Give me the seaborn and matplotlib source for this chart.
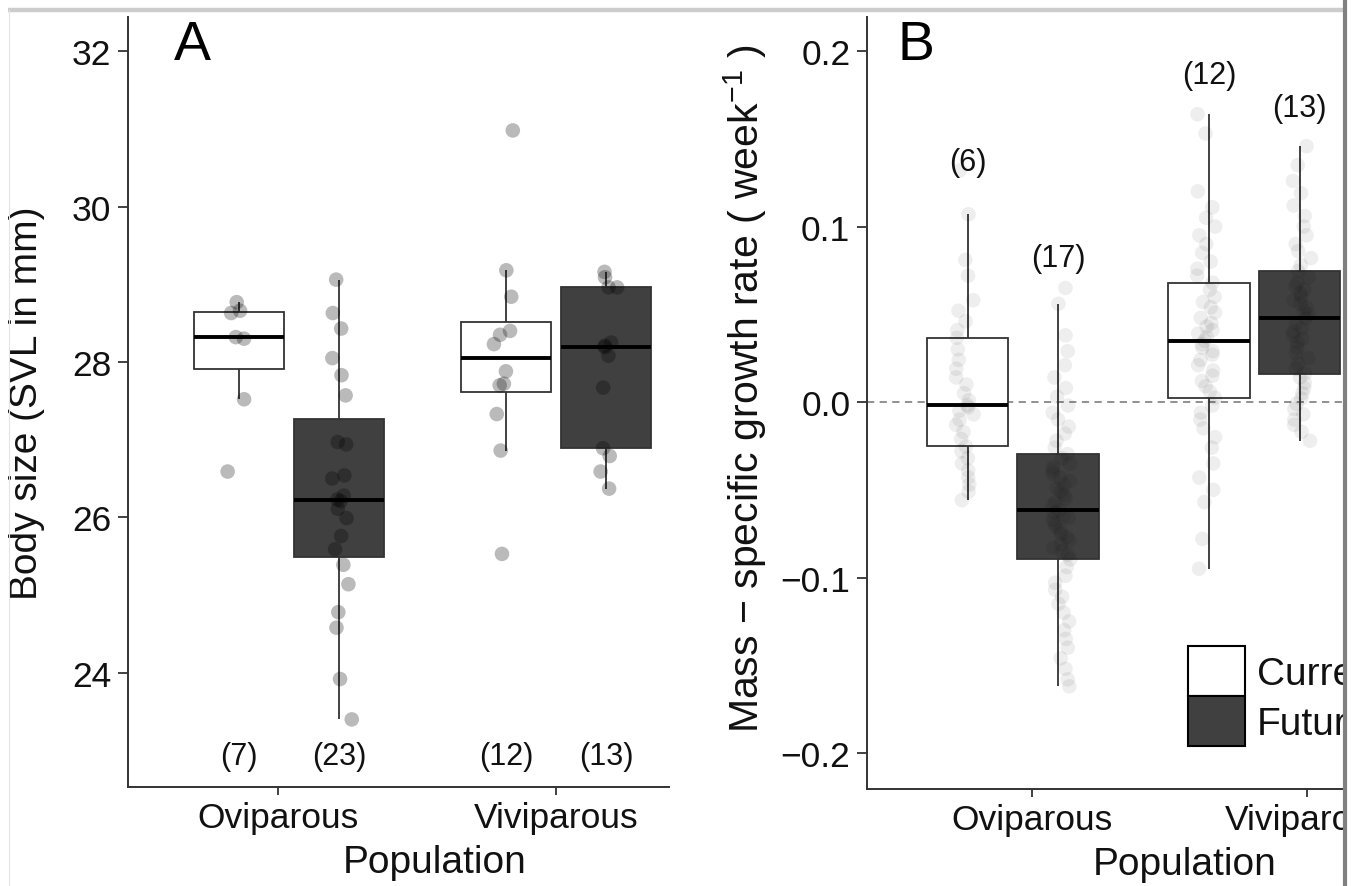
import numpy as np
import pandas as pd
import matplotlib
matplotlib.use("Agg")
import matplotlib.pyplot as plt
import seaborn as sns
from matplotlib.patches import Patch, Rectangle
from matplotlib.lines import Line2D

# ---------------- data ----------------
populations = ["Oviparous", "Viviparous"]
climates = ["Current", "Future"]

# Panel A: body size (SVL in mm)
svl_ovi_current = [28.77, 28.66, 28.63, 28.32, 28.30, 27.52, 26.59]
svl_ovi_future = [29.06, 28.63, 28.43, 28.05, 27.83, 27.57, 26.97, 26.94, 26.54,
                  26.50, 26.28, 26.23, 26.21, 26.11, 25.99, 25.76, 25.59, 25.39,
                  25.14, 24.78, 24.58, 23.92, 23.40]
svl_viv_current = [30.98, 29.18, 28.84, 28.40, 28.35, 28.23, 27.88, 27.72, 27.70,
                   27.33, 26.86, 25.53]
svl_viv_future = [29.16, 29.09, 28.96, 28.96, 28.25, 28.21, 28.19, 28.08, 27.67,
                  26.89, 26.79, 26.59, 26.37]

# Panel B: mass-specific growth rate (week^-1)
gr_ovi_current = [-0.0559, -0.051, -0.047, -0.043, -0.039, -0.035, -0.032, -0.028,
                  -0.0253, -0.021, -0.017, -0.013, -0.010, -0.007, -0.005, -0.003,
                  -0.0018, 0.001, 0.005, 0.010, 0.014, 0.019, 0.024, 0.030, 0.0366,
                  0.041, 0.046, 0.052, 0.058, 0.072, 0.081, 0.107, 0.132]
gr_ovi_future = [-0.162, -0.158, -0.152, -0.146, -0.140, -0.135, -0.130, -0.125,
                 -0.120, -0.115, -0.111, -0.107, -0.103, -0.099, -0.094, -0.0897,
                 -0.087, -0.085, -0.083, -0.081, -0.079, -0.077, -0.075, -0.073,
                 -0.071, -0.069, -0.067, -0.066, -0.065, -0.063, -0.0616,
                 -0.059, -0.057, -0.055, -0.053, -0.051, -0.049, -0.047, -0.045,
                 -0.043, -0.041, -0.039, -0.037, -0.035, -0.032, -0.0297,
                 -0.026, -0.022, -0.018, -0.014, -0.010, -0.006, -0.002, 0.003,
                 0.008, 0.014, 0.021, 0.029, 0.038, 0.056, 0.065]
gr_viv_current = [-0.095, -0.078, -0.057, -0.050, -0.043, -0.035, -0.026, -0.020,
                  -0.015, -0.010, -0.006, -0.002, 0.0025,
                  0.006, 0.009, 0.012, 0.015, 0.018, 0.021, 0.024, 0.027, 0.029,
                  0.031, 0.033, 0.0349,
                  0.037, 0.039, 0.041, 0.043, 0.045, 0.048, 0.051, 0.054, 0.057,
                  0.060, 0.064, 0.068,
                  0.072, 0.076, 0.080, 0.085, 0.090, 0.095, 0.100, 0.105, 0.111,
                  0.120, 0.153, 0.164]
gr_viv_future = [-0.0221, -0.017, -0.013, -0.010, -0.007, -0.004, -0.001, 0.002,
                 0.005, 0.008, 0.011, 0.014, 0.0162,
                 0.019, 0.022, 0.025, 0.028, 0.031, 0.034, 0.036, 0.038, 0.040,
                 0.042, 0.045, 0.0478,
                 0.050, 0.052, 0.054, 0.056, 0.058, 0.060, 0.062, 0.064, 0.066,
                 0.068, 0.071, 0.0746,
                 0.078, 0.082, 0.086, 0.090, 0.095, 0.100, 0.106, 0.112, 0.119,
                 0.126, 0.135, 0.1458]

n_labels_A = ["(7)", "(23)", "(12)", "(13)"]
n_labels_B = ["(6)", "(17)", "(12)", "(13)"]

yticks_A = [24, 26, 28, 30, 32]
yticks_B = [-0.2, -0.1, 0.0, 0.1, 0.2]
yticklabels_B = ["\u22120.2", "\u22120.1", "0.0", "0.1", "0.2"]


def make_df(groups):
    rows = []
    for (pop, clim), vals in groups.items():
        for v in vals:
            rows.append({"Population": pop, "Climate": clim, "value": v})
    return pd.DataFrame(rows)


df_A = make_df({("Oviparous", "Current"): svl_ovi_current,
                ("Oviparous", "Future"): svl_ovi_future,
                ("Viviparous", "Current"): svl_viv_current,
                ("Viviparous", "Future"): svl_viv_future})
df_B = make_df({("Oviparous", "Current"): gr_ovi_current,
                ("Oviparous", "Future"): gr_ovi_future,
                ("Viviparous", "Current"): gr_viv_current,
                ("Viviparous", "Future"): gr_viv_future})

# ---------------- style ----------------
sns.set_style("white")
plt.rcParams["font.family"] = ["Liberation Sans", "DejaVu Sans"]
plt.rcParams["mathtext.fontset"] = "custom"
plt.rcParams["mathtext.rm"] = "Liberation Sans"
plt.rcParams["mathtext.it"] = "Liberation Sans:italic"
plt.rcParams["mathtext.default"] = "regular"
plt.rcParams["text.color"] = "#111111"
plt.rcParams["axes.labelcolor"] = "#111111"

W, H = 1362, 887
fig = plt.figure(figsize=(W / 100, H / 100), dpi=100)
fig.patch.set_facecolor("white")


def px_axes(x0, y0, x1, y1):
    return fig.add_axes([x0 / W, 1 - y1 / H, (x1 - x0) / W, (y1 - y0) / H])


axA = px_axes(128, 18, 669, 788)
axB = px_axes(867, 18, 1346, 790)

pal_fill = {"Current": "white", "Future": "#404040"}
pal_pts = {"Current": "black", "Future": "black"}
BOX_W = 0.75
dodge_off = [-BOX_W / 4, BOX_W / 4]


def draw_panel(ax, df, pt_alpha, pt_size):
    sns.boxplot(data=df, x="Population", y="value", hue="Climate",
                order=populations, hue_order=climates, palette=pal_fill,
                width=BOX_W, gap=0.1, linecolor="#333333", linewidth=1.3,
                showcaps=False, showfliers=False,
                medianprops={"color": "black", "linewidth": 2.8},
                saturation=1, legend=False, ax=ax)
    sns.stripplot(data=df, x="Population", y="value", hue="Climate",
                  order=populations, hue_order=climates, palette=pal_pts,
                  dodge=True, jitter=0.08, alpha=pt_alpha, size=pt_size,
                  linewidth=0, legend=False, ax=ax, zorder=3)


np.random.seed(3)
axB.axhline(0, color="#888888", lw=1.3, ls=(0, (4, 3)), zorder=0.5)
draw_panel(axA, df_A, 0.27, 10.5)
draw_panel(axB, df_B, 0.065, 10.5)

for ax in (axA, axB):
    sns.despine(ax=ax)
    for s in ("left", "bottom"):
        ax.spines[s].set_color("#333333")
        ax.spines[s].set_linewidth(1.4)
    ax.tick_params(axis="y", left=True, length=7, width=1.3, color="#333333", pad=5,
                   labelsize=25.5, labelcolor="#111111")
    ax.tick_params(axis="x", bottom=True, length=6, width=1.3, color="#333333", pad=4,
                   labelsize=25.5, labelcolor="#111111")

# Panel A axes
axA.set_xlim(-0.603, 1.423)
axA.set_ylim(22.53, 32.44)
axA.set_yticks(yticks_A)
axA.set_xticks([-0.04, 1.0])
axA.set_xticklabels(populations)
axA.set_xlabel("Population", fontsize=28, va="center")
axA.xaxis.set_label_coords((435 - 128) / 541, (788 - 863) / 770)
axA.set_ylabel("Body size (SVL in mm)", fontsize=28, va="center")
axA.yaxis.set_label_coords((27 - 128) / 541, 0.5)

# Panel B axes
axB.set_xlim(-0.604, 1.38)
axB.set_ylim(-0.2205, 0.2194)
axB.set_yticks(yticks_B)
axB.set_yticklabels(yticklabels_B)
axB.set_xticks([0.081, 1.218])
axB.set_xticklabels(populations)
axB.set_xlabel("Population", fontsize=28, va="center")
axB.xaxis.set_label_coords((1185 - 867) / 479, (790 - 865) / 772)
axB.set_ylabel("Mass \u2212 specific growth rate ( week$^{-1}$ )", fontsize=29.5, va="center")
axB.yaxis.set_label_coords((745 - 867) / 479, 0.52)

# sample-size labels
n_y_A = [22.93, 22.93, 22.93, 22.93]
n_y_B = [0.1367, 0.0823, 0.1864, 0.1677]
k = 0
for i, pop in enumerate(populations):
    for j, clim in enumerate(climates):
        axA.text(i + dodge_off[j], n_y_A[k], n_labels_A[k], ha="center",
                 va="center", fontsize=22, color="#111111")
        axB.text(i + dodge_off[j], n_y_B[k], n_labels_B[k], ha="center",
                 va="center", fontsize=22, color="#111111")
        k += 1

# panel letters
fig.text(174 / W, 1 - 20 / H, "A", fontsize=40, ha="left", va="top", color="black")
fig.text(898 / W, 1 - 20 / H, "B", fontsize=40, ha="left", va="top", color="black")

# legend
handles = [Patch(facecolor=pal_fill[c], edgecolor="black", linewidth=1.5) for c in climates]
axB.legend(handles, climates, loc="upper left",
           bbox_to_anchor=((1188 - 867) / 479, 1 - (647 - 18) / 772),
           frameon=False, fontsize=28, handlelength=1.47, handleheight=1.6,
           labelspacing=0, handletextpad=0.3, borderpad=0, borderaxespad=0)

# frame decorations (cropped figure look)
fig.add_artist(Rectangle((1347 / W, 0), (W - 1347) / W, 1, transform=fig.transFigure,
                         facecolor="white", edgecolor="none", zorder=10))
fig.add_artist(Line2D([8 / W, 1343 / W], [1 - 11 / H, 1 - 11 / H], transform=fig.transFigure,
                      color="#cccccc", lw=3.2, zorder=11, solid_capstyle="butt"))
fig.add_artist(Line2D([8.5 / W, 8.5 / W], [0, 1 - 11 / H], transform=fig.transFigure,
                      color="#e4e4e4", lw=0.8, zorder=11))
fig.add_artist(Line2D([1345 / W, 1345 / W], [0, 1], transform=fig.transFigure,
                      color="#808080", lw=3.0, zorder=12, solid_capstyle="butt"))

fig.savefig("out.png", dpi=100, facecolor="white")
